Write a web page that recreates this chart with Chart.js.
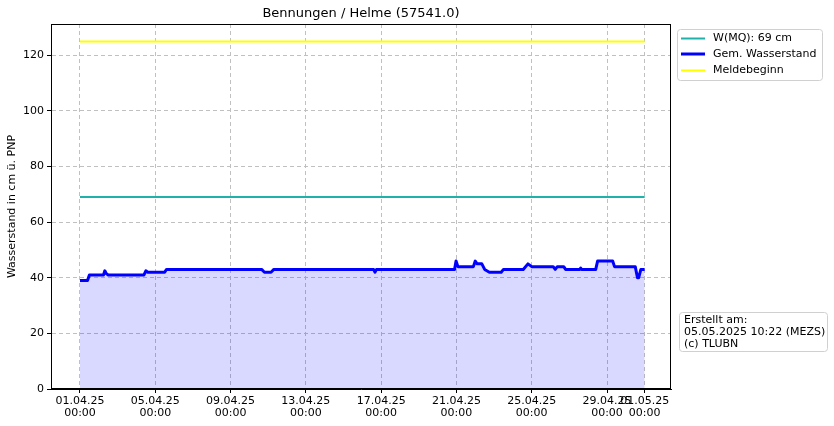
<!DOCTYPE html>
<html>
<head>
<meta charset="utf-8">
<script src="https://cdn.jsdelivr.net/npm/chart.js@4.4.1/dist/chart.umd.min.js"></script>
<style>
  html, body { margin: 0; padding: 0; background: #ffffff; }
  #wrap { width: 834px; height: 426px; position: relative; }
</style>
</head>
<body>
<div id="wrap"><canvas id="c" width="834" height="426"></canvas></div>
<script>
// ---- data (days since 01.04.25 00:00) ----
const chartTitle = "Bennungen / Helme (57541.0)";
const yAxisTitle = "Wasserstand in cm ü. PNP";
const seriesLabels = ["W(MQ): 69 cm", "Gem. Wasserstand", "Meldebeginn"];
const rangeDays = [0, 30];
const mqValue = 69;
const meldebeginnValue = 125;
const levelDays = [0, 0.4, 0.5, 1.25, 1.32, 1.4, 1.5, 3.4, 3.5, 3.6, 4.5, 4.6,
  9.65, 9.8, 10.15, 10.3, 15.6, 15.67, 15.75, 19.9, 19.98, 20.08, 20.9, 21.0, 21.1,
  21.35, 21.5, 21.75, 22.38, 22.5, 23.55, 23.8, 24.0, 25.14, 25.25, 25.36, 25.7, 25.8,
  26.55, 26.6, 26.65, 27.4, 27.5, 28.3, 28.4, 29.5, 29.62, 29.68, 29.8, 30];
const levelValues = [39, 39, 41, 41, 42.5, 41.5, 41, 41, 42.5, 42, 42, 43,
  43, 42, 42, 43, 43, 42, 43, 43, 46, 44, 44, 46, 45,
  45, 43, 42, 42, 43, 43, 45, 44, 44, 43, 44, 44, 43,
  43, 43.5, 43, 43, 46, 46, 44, 44, 40, 40, 43, 43];
const xTickDays = [0, 4, 8, 12, 16, 20, 24, 28, 30];
const xTickLabels = [["01.04.25","00:00"],["05.04.25","00:00"],["09.04.25","00:00"],["13.04.25","00:00"],
  ["17.04.25","00:00"],["21.04.25","00:00"],["25.04.25","00:00"],["29.04.25","00:00"],["01.05.25","00:00"]];
const yTickValues = [0, 20, 40, 60, 80, 100, 120];
const infoLines = ["Erstellt am:", "05.05.2025 10:22 (MEZS)", "(c) TLUBN"];

const FONT = "'DejaVu Sans', sans-serif";

const levelPoints = levelDays.map((d, i) => ({ x: d, y: levelValues[i] }));
const mqPoints = rangeDays.map(d => ({ x: d, y: mqValue }));
const meldPoints = rangeDays.map(d => ({ x: d, y: meldebeginnValue }));

const decorPlugin = {
  id: 'decor',
  afterDatasetsDraw(chart) {
    const ctx = chart.ctx, a = chart.chartArea;
    ctx.save();
    ctx.setLineDash([]);
    ctx.strokeStyle = '#000'; ctx.lineWidth = 1;
    ctx.strokeRect(Math.round(a.left) + 0.5, Math.round(a.top) + 0.5,
      Math.round(a.right - a.left) - 1, Math.round(a.bottom - a.top) - 1);
    ctx.restore();
  },
  afterDraw(chart) {
    const ctx = chart.ctx, a = chart.chartArea;
    ctx.save();
    ctx.fillStyle = '#000';
    ctx.font = "13px " + FONT;
    ctx.textAlign = 'center'; ctx.textBaseline = 'middle';
    ctx.fillText(chartTitle, (a.left + a.right) / 2, 14);
    ctx.font = "11px " + FONT;
    ctx.translate(12, (a.top + a.bottom) / 2);
    ctx.rotate(-Math.PI / 2);
    ctx.fillText(yAxisTitle, 0, 0);
    ctx.restore();

    ctx.save();
    ctx.setLineDash([]);
    const lx = 677.5, ly = 29.5, lw = 145, lh = 51;
    roundRect(ctx, lx, ly, lw, lh, 3);
    ctx.fillStyle = 'rgba(255,255,255,0.85)'; ctx.fill();
    ctx.strokeStyle = '#d0d0d0'; ctx.lineWidth = 1; ctx.stroke();
    const rows = [38.5, 54, 70.5];
    chart.data.datasets.forEach((ds, i) => {
      ctx.strokeStyle = ds.borderColor;
      ctx.lineWidth = ds.borderWidth;
      ctx.beginPath(); ctx.moveTo(681, rows[i]); ctx.lineTo(705, rows[i]); ctx.stroke();
      ctx.fillStyle = '#000';
      ctx.font = "11px " + FONT;
      ctx.textAlign = 'left'; ctx.textBaseline = 'middle';
      ctx.fillText(ds.label, 713, rows[i]);
    });
    const bx = 679.5, by = 312.5, bw = 148, bh = 39;
    roundRect(ctx, bx, by, bw, bh, 3);
    ctx.fillStyle = '#fff'; ctx.fill();
    ctx.lineWidth = 1;
    ctx.strokeStyle = '#d0d0d0'; ctx.stroke();
    ctx.fillStyle = '#000';
    infoLines.forEach((t, i) => ctx.fillText(t, 684, 320.5 + i * 11.8));
    ctx.restore();
  }
};

function roundRect(ctx, x, y, w, h, r) {
  ctx.beginPath();
  ctx.moveTo(x + r, y);
  ctx.lineTo(x + w - r, y); ctx.arcTo(x + w, y, x + w, y + r, r);
  ctx.lineTo(x + w, y + h - r); ctx.arcTo(x + w, y + h, x + w - r, y + h, r);
  ctx.lineTo(x + r, y + h); ctx.arcTo(x, y + h, x, y + h - r, r);
  ctx.lineTo(x, y + r); ctx.arcTo(x, y, x + r, y, r);
  ctx.closePath();
}

new Chart(document.getElementById('c'), {
  type: 'line',
  data: {
    datasets: [
      { label: seriesLabels[0], data: mqPoints, borderColor: '#20b2aa', borderWidth: 2,
        pointRadius: 0, fill: false, tension: 0 },
      { label: seriesLabels[1], data: levelPoints, borderColor: '#0000ff', borderWidth: 3,
        pointRadius: 0, fill: 'origin', backgroundColor: 'rgba(0,0,255,0.15)', tension: 0,
        borderJoinStyle: 'round' },
      { label: seriesLabels[2], data: meldPoints, borderColor: '#ffff00', borderWidth: 2,
        pointRadius: 0, fill: false, tension: 0 }
    ]
  },
  options: {
    responsive: false,
    animation: false,
    devicePixelRatio: 1,
    layout: { padding: { top: 24, right: 163, bottom: 0, left: 0 } },
    plugins: { legend: { display: false }, title: { display: false }, tooltip: { enabled: false } },
    scales: {
      x: {
        type: 'linear', min: -1.54, max: 31.4,
        afterBuildTicks: s => { s.ticks = xTickDays.map(v => ({ value: v })); },
        afterFit: s => { s.height = 37; },
        grid: { color: '#c0c0c0', lineWidth: 1, tickColor: '#000',
                tickLength: 4, tickBorderDash: [0, 0], drawTicks: true },
        border: { display: true, color: '#000', dash: [4, 3] },
        ticks: {
          autoSkip: false, maxRotation: 0, padding: 2, color: '#000',
          font: { family: FONT, size: 11, lineHeight: 1.1 },
          callback: (v, i) => xTickLabels[i]
        }
      },
      y: {
        type: 'linear', min: 0, max: 131.25,
        afterBuildTicks: s => { s.ticks = yTickValues.map(v => ({ value: v })); },
        afterFit: s => { s.width = 51; },
        grid: { color: '#c0c0c0', lineWidth: 1, tickColor: '#000',
                tickLength: 4, tickBorderDash: [0, 0] },
        border: { display: true, color: '#000', dash: [4, 3] },
        ticks: { padding: 3, color: '#000', font: { family: FONT, size: 11 } }
      }
    }
  },
  plugins: [decorPlugin]
});
</script>
</body>
</html>
